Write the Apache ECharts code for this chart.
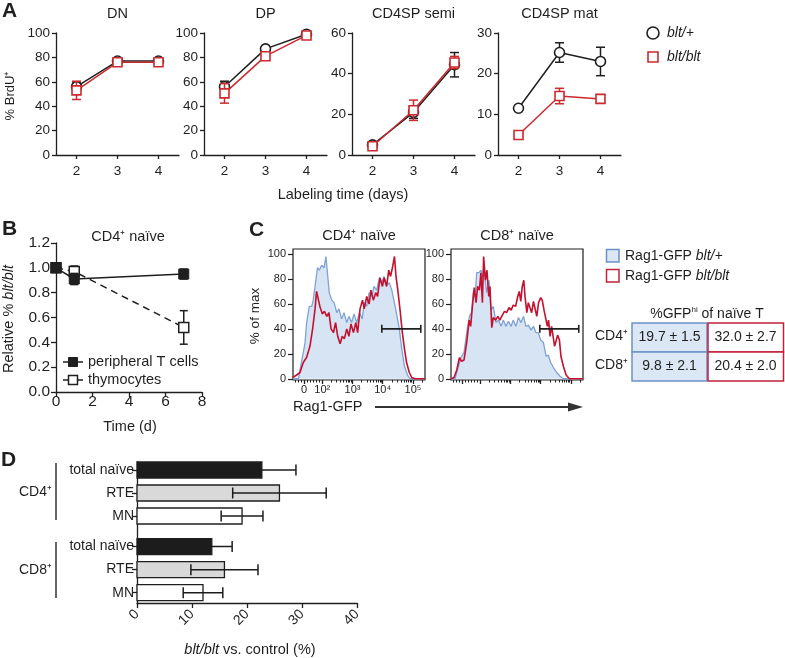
<!DOCTYPE html>
<html><head><meta charset="utf-8">
<script src="https://cdn.jsdelivr.net/npm/echarts@6/dist/echarts.min.js"></script>
<style>html,body{margin:0;padding:0;background:#fff}#c{width:785px;height:658px}</style>
</head><body><div id="c"></div>
<script>
// ---------- Panel A data ----------
const days = [2, 3, 4];
const dnWT = [56, 77, 77], dnWTErr = [3, 1.5, 1.5];
const dnKO = [53, 76, 76], dnKOErr = [7.5, 2, 2];
const dpWT = [56, 87, 99], dpWTErr = [4.5, 1.5, 1];
const dpKO = [50.5, 81, 98], dpKOErr = [8, 3, 1.5];
const semiWT = [5, 21, 44.4], semiWTErr = [1, 3, 6];
const semiKO = [4.3, 22, 45.5], semiKOErr = [1, 5, 3];
const matWT = [11.5, 25.2, 23], matWTErr = [0.5, 2.4, 3.5];
const matKO = [4.9, 14.5, 13.8], matKOErr = [0.4, 1.9, 0.6];
const aTitles = ['DN', 'DP', 'CD4SP semi', 'CD4SP mat'];
const aLegend = ['blt/+', 'blt/blt'];

// ---------- Panel B data ----------
const bTime = [0, 1, 7];
const periph = [1.0, 0.91, 0.95], periphErr = [0, 0.045, 0.04];
const thymo = [1.0, 0.97, 0.52], thymoErr = [0, 0.045, 0.135];
const bLegend = ['peripheral T cells', 'thymocytes'];

// ---------- Panel C data (x in decades of Rag1-GFP, y in % of max) ----------
const cTickVals = [1.4, 2, 3, 4, 5];
const cTickLabels = ['0', '10²', '10³', '10⁴', '10⁵'];
const cd4BlueX = [1.02,1.21,1.26,1.37,1.43,1.48,1.57,1.65,1.70,1.76,1.84,1.90,1.98,2.06,2.12,2.17,2.23,2.31,2.39,2.48,2.55,2.64,2.72,2.81,2.88,2.97,3.05,3.14,3.23,3.32,3.39,3.47,3.55,3.64,3.71,3.80,3.89,3.97,4.04,4.13,4.22,4.30,4.37,4.46,4.55,4.63,4.72,4.82,4.90,5.40];
const cd4BlueY = [0,0,7,21,29,45,58,58,63,74,89,87,91,89,98,85,69,63,61,53,56,48,53,45,50,45,52,45,53,48,61,58,69,66,74,71,81,77,82,75,77,71,63,52,40,24,10,3,0,0];
const cd4RedX = [1.02,1.15,1.26,1.37,1.48,1.59,1.68,1.76,1.81,1.87,1.92,2.00,2.07,2.15,2.22,2.29,2.37,2.44,2.51,2.59,2.66,2.73,2.81,2.88,2.95,3.03,3.11,3.17,3.25,3.33,3.39,3.47,3.55,3.61,3.69,3.77,3.83,3.91,3.99,4.05,4.13,4.20,4.26,4.33,4.39,4.44,4.50,4.57,4.65,4.72,4.79,4.88,4.96,5.07,5.40];
const cd4RedY = [1,3,5,13,17,26,40,56,70,71,58,52,54,50,53,40,37,45,34,28,34,32,40,34,44,37,45,37,56,63,56,66,60,71,63,69,66,81,74,81,74,87,82,90,98,82,71,56,37,24,13,5,1,0,0];
const cd8BlueX = [1.02,1.16,1.22,1.31,1.38,1.46,1.55,1.64,1.71,1.77,1.83,1.88,1.96,2.02,2.08,2.13,2.21,2.29,2.35,2.43,2.52,2.60,2.69,2.76,2.85,2.93,3.02,3.09,3.18,3.26,3.35,3.43,3.51,3.59,3.68,3.76,3.84,3.92,4.00,4.09,4.18,4.25,4.33,4.42,4.53,4.64,4.75,5.40];
const cd8BlueY = [0,0,5,13,18,21,37,50,53,70,65,85,85,87,81,87,69,79,55,58,45,47,42,47,42,46,42,47,42,49,45,50,42,43,39,42,37,37,31,29,18,19,13,9,5,2,0,0];
const cd8RedX = [1.02,1.13,1.22,1.31,1.38,1.46,1.55,1.63,1.68,1.75,1.80,1.86,1.91,1.97,2.02,2.07,2.11,2.17,2.22,2.28,2.32,2.38,2.43,2.51,2.58,2.65,2.73,2.80,2.87,2.95,3.02,3.09,3.17,3.24,3.29,3.34,3.39,3.44,3.48,3.54,3.59,3.65,3.70,3.76,3.81,3.87,3.93,4.00,4.05,4.11,4.17,4.22,4.26,4.31,4.36,4.41,4.46,4.51,4.56,4.62,4.67,4.75,4.84,4.95,5.40];
const cd8RedY = [0,1,7,17,14,15,29,47,42,61,73,61,74,71,85,61,98,79,87,66,74,41,49,47,50,47,51,54,53,57,55,59,58,66,70,62,74,79,66,53,61,62,53,62,61,50,61,65,63,55,54,42,47,34,42,34,26,25,35,31,18,10,3,0,0];
const gate = [3.97, 5.26, 40];
const cTitles = ['CD4⁺ naïve', 'CD8⁺ naïve'];
const cLegend = ['blt/+', 'blt/blt'];
const tableRows = ['CD4⁺', 'CD8⁺'];
const tableWT = ['19.7 ± 1.5', '9.8 ± 2.1'];
const tableKO = ['32.0 ± 2.7', '20.4 ± 2.0'];

// ---------- Panel D data ----------
const dGroups = ['CD4⁺', 'CD8⁺'];
const dCats = ['total naïve', 'RTE', 'MN'];
const dCD4 = [22.7, 25.9, 19.1], dCD4Err = [6.2, 8.5, 3.8];
const dCD8 = [13.6, 15.9, 12.0], dCD8Err = [3.7, 6.1, 3.6];

// ---------- styling ----------
const F = '"Liberation Sans", Arial, Helvetica, sans-serif';
const INK = '#1f1f1f';
const REDA = '#cc2a2e';
const HRED = '#c3112f';
const HBLUE = '#7fa2d3';
const HFILL = '#d6e4f3';

const grid = [], xAxis = [], yAxis = [], series = [], graphic = [];

function txt(x, y, text, o) {
  o = o || {};
  const size = o.size || 14;
  const st = {text: text, fill: o.color || INK, font: (o.bold ? 'bold ' : '') + size + 'px ' + F,
    textAlign: o.align || 'center', align: o.align || 'center',
    textVerticalAlign: 'middle', verticalAlign: 'middle'};
  if (o.rich) st.rich = o.rich;
  return {type: 'text', x: x, y: y, rotation: o.rot || 0, z: 100, style: st};
}
function richSet(size) {
  return {n: {fontSize: size, fontFamily: F, fill: INK, color: INK},
          i: {fontSize: size, fontFamily: F, fontStyle: 'italic', fill: INK, color: INK}};
}
const lineSt = {color: INK, width: 1.3};
function vErr(color, cap, lw) {
  return function (params, api) {
    const x = api.value(0), m = api.value(1), e = api.value(2);
    if (!e) return {type: 'group', children: []};
    const t = api.coord([x, m + e]), b = api.coord([x, m - e]);
    const st = {stroke: color, lineWidth: lw};
    return {type: 'group', children: [
      {type: 'line', shape: {x1: t[0], y1: t[1], x2: b[0], y2: b[1]}, style: st},
      {type: 'line', shape: {x1: t[0] - cap / 2, y1: t[1], x2: t[0] + cap / 2, y2: t[1]}, style: st},
      {type: 'line', shape: {x1: b[0] - cap / 2, y1: b[1], x2: b[0] + cap / 2, y2: b[1]}, style: st}]};
  };
}
function hErr(color, cap, lw) {
  return function (params, api) {
    const v = api.value(0), p = api.value(1), e = api.value(2);
    const l = api.coord([v - e, p]), r = api.coord([v + e, p]);
    const st = {stroke: color, lineWidth: lw};
    return {type: 'group', children: [
      {type: 'line', shape: {x1: l[0], y1: l[1], x2: r[0], y2: r[1]}, style: st},
      {type: 'line', shape: {x1: l[0], y1: l[1] - cap / 2, x2: l[0], y2: l[1] + cap / 2}, style: st},
      {type: 'line', shape: {x1: r[0], y1: r[1] - cap / 2, x2: r[0], y2: r[1] + cap / 2}, style: st}]};
  };
}

// ---------- Panel A ----------
const aSets = [
  {left: 56, ymax: 100, yint: 20, wt: dnWT, wtE: dnWTErr, ko: dnKO, koE: dnKOErr},
  {left: 204, ymax: 100, yint: 20, wt: dpWT, wtE: dpWTErr, ko: dpKO, koE: dpKOErr},
  {left: 352, ymax: 60, yint: 20, wt: semiWT, wtE: semiWTErr, ko: semiKO, koE: semiKOErr},
  {left: 498, ymax: 30, yint: 10, wt: matWT, wtE: matWTErr, ko: matKO, koE: matKOErr}
];
aSets.forEach(function (p, i) {
  grid.push({left: p.left, top: 33, width: 123, height: 122});
  const xi = xAxis.length, yi = yAxis.length;
  xAxis.push({gridIndex: i, type: 'value', min: 1.5, max: 4.5, position: 'bottom',
    axisLine: {show: true, onZero: false, lineStyle: lineSt},
    axisTick: {show: true, customValues: days, length: 4, lineStyle: lineSt},
    axisLabel: {show: true, customValues: days, fontSize: 13.5, fontFamily: F, color: INK, margin: 9},
    splitLine: {show: false}});
  yAxis.push({gridIndex: i, type: 'value', min: 0, max: p.ymax, interval: p.yint,
    axisLine: {show: true, onZero: false, lineStyle: lineSt},
    axisTick: {show: true, length: 4, lineStyle: lineSt},
    axisLabel: {show: true, fontSize: 13.5, fontFamily: F, color: INK, margin: 6},
    splitLine: {show: false}});
  series.push({type: 'custom', xAxisIndex: xi, yAxisIndex: yi, z: 1, renderItem: vErr(INK, 9, 1.5),
    encode: {x: 0, y: 1}, data: days.map(function (d, k) { return [d, p.wt[k], p.wtE[k]]; })});
  series.push({type: 'line', xAxisIndex: xi, yAxisIndex: yi, z: 2, symbol: 'circle', symbolSize: 10,
    itemStyle: {color: '#fff', borderColor: INK, borderWidth: 1.6}, lineStyle: {color: INK, width: 1.5},
    data: days.map(function (d, k) { return [d, p.wt[k]]; })});
  series.push({type: 'custom', xAxisIndex: xi, yAxisIndex: yi, z: 3, renderItem: vErr(REDA, 9, 1.5),
    encode: {x: 0, y: 1}, data: days.map(function (d, k) { return [d, p.ko[k], p.koE[k]]; })});
  series.push({type: 'line', xAxisIndex: xi, yAxisIndex: yi, z: 4, symbol: 'rect', symbolSize: 9,
    itemStyle: {color: '#fff', borderColor: REDA, borderWidth: 1.6}, lineStyle: {color: REDA, width: 1.5},
    data: days.map(function (d, k) { return [d, p.ko[k]]; })});
  graphic.push(txt(p.left + 61.5, 14, aTitles[i], {size: 14.5}));
});
graphic.push(txt(10, 96, '% BrdU⁺', {size: 13, rot: Math.PI / 2}));
graphic.push(txt(343, 195, 'Labeling time (days)', {size: 14.5}));
graphic.push({type: 'circle', shape: {cx: 653, cy: 33, r: 6}, style: {fill: '#fff', stroke: INK, lineWidth: 1.6}});
graphic.push({type: 'rect', shape: {x: 648, y: 52, width: 10, height: 10}, style: {fill: '#fff', stroke: REDA, lineWidth: 1.6}});
graphic.push(txt(667, 33, '{i|' + aLegend[0] + '}', {align: 'left', rich: richSet(14), size: 14}));
graphic.push(txt(667, 57, '{i|' + aLegend[1] + '}', {align: 'left', rich: richSet(14), size: 14}));

// ---------- Panel B ----------
const bg = grid.length;
grid.push({left: 56, top: 243, width: 146, height: 149});
const bx = xAxis.length, by = yAxis.length;
xAxis.push({gridIndex: bg, type: 'value', min: 0, max: 8, interval: 2, position: 'bottom',
  axisLine: {show: true, onZero: false, lineStyle: lineSt},
  axisTick: {show: true, length: 5, lineStyle: lineSt},
  axisLabel: {fontSize: 15.5, fontFamily: F, color: INK, margin: 2}, splitLine: {show: false}});
yAxis.push({gridIndex: bg, type: 'value', min: 0, max: 1.2, interval: 0.2,
  axisLine: {show: true, onZero: false, lineStyle: lineSt},
  axisTick: {show: true, length: 5, lineStyle: lineSt},
  axisLabel: {fontSize: 15.5, fontFamily: F, color: INK, margin: 6, formatter: function (v) { return v.toFixed(1); }},
  splitLine: {show: false}});
series.push({type: 'custom', xAxisIndex: bx, yAxisIndex: by, z: 1, renderItem: vErr(INK, 8, 1.5), encode: {x: 0, y: 1},
  data: bTime.map(function (t, k) { return [t, thymo[k], thymoErr[k]]; })});
series.push({type: 'line', xAxisIndex: bx, yAxisIndex: by, z: 2, symbol: 'rect', symbolSize: 10,
  itemStyle: {color: '#fff', borderColor: INK, borderWidth: 1.5}, lineStyle: {color: INK, width: 1.5, type: [7, 5]},
  data: bTime.map(function (t, k) { return [t, thymo[k]]; })});
series.push({type: 'custom', xAxisIndex: bx, yAxisIndex: by, z: 3, renderItem: vErr(INK, 8, 1.5), encode: {x: 0, y: 1},
  data: bTime.map(function (t, k) { return [t, periph[k], periphErr[k]]; })});
series.push({type: 'line', xAxisIndex: bx, yAxisIndex: by, z: 4, symbol: 'rect', symbolSize: 10,
  itemStyle: {color: INK, borderColor: INK, borderWidth: 1}, lineStyle: {color: INK, width: 1.5},
  data: bTime.map(function (t, k) { return [t, periph[k]]; })});
graphic.push(txt(128, 237, 'CD4⁺ naïve', {size: 14.5}));
graphic.push(txt(9, 319, '{n|Relative % }{i|blt/blt}', {size: 14.5, rot: Math.PI / 2, rich: richSet(14.5)}));
graphic.push(txt(130, 427, 'Time (d)', {size: 14.5}));
graphic.push({type: 'line', shape: {x1: 63, y1: 362, x2: 83, y2: 362}, style: {stroke: INK, lineWidth: 1.5}});
graphic.push({type: 'rect', shape: {x: 68.5, y: 357.5, width: 9, height: 9}, style: {fill: INK, stroke: INK, lineWidth: 1}});
graphic.push({type: 'line', shape: {x1: 63, y1: 380, x2: 83, y2: 380}, style: {stroke: INK, lineWidth: 1.5}});
graphic.push({type: 'rect', shape: {x: 68.5, y: 375.5, width: 9, height: 9}, style: {fill: '#fff', stroke: INK, lineWidth: 1.5}, z: 101});
graphic.push(txt(88, 362, bLegend[0], {align: 'left', size: 14.5}));
graphic.push(txt(88, 380, bLegend[1], {align: 'left', size: 14.5}));

// ---------- Panel C ----------
const cMinor = [1.1, 1.2, 1.3, 1.5, 1.6, 1.7, 1.8, 1.9];
[2, 3, 4, 5].forEach(function (d) { for (let k = 2; k <= 9; k++) { const v = d + Math.log10(k); if (v < 5.4) cMinor.push(v); } });
const hists = [
  {left: 293, blueX: cd4BlueX, blueY: cd4BlueY, redX: cd4RedX, redY: cd4RedY, labels: true},
  {left: 451, blueX: cd8BlueX, blueY: cd8BlueY, redX: cd8RedX, redY: cd8RedY, labels: false}
];
hists.forEach(function (h, j) {
  const gi = grid.length;
  grid.push({left: h.left, top: 249, width: 132, height: 131, show: true, borderColor: INK, borderWidth: 1.2, backgroundColor: 'transparent'});
  const xi = xAxis.length;
  xAxis.push({gridIndex: gi, type: 'value', min: 1.03, max: 5.4, position: 'bottom',
    axisLine: {show: false, onZero: false},
    axisTick: {show: true, customValues: cTickVals, length: 4, lineStyle: {color: INK, width: 1.3}},
    axisLabel: {show: h.labels, customValues: cTickVals, fontSize: 11, fontFamily: F, color: INK, margin: 4,
      formatter: function (v) { const k = cTickVals.findIndex(function (t) { return Math.abs(t - v) < 0.01; }); return k >= 0 ? cTickLabels[k] : ''; }},
    splitLine: {show: false}});
  xAxis.push({gridIndex: gi, type: 'value', min: 1.03, max: 5.4, position: 'bottom',
    axisLine: {show: false, onZero: false},
    axisTick: {show: true, customValues: cMinor, length: 2.5, lineStyle: {color: INK, width: 1}},
    axisLabel: {show: false}, splitLine: {show: false}});
  const yi = yAxis.length;
  yAxis.push({gridIndex: gi, type: 'value', min: -1, max: 104,
    axisLine: {show: false, onZero: false},
    axisTick: {show: true, customValues: [0, 20, 40, 60, 80, 100], length: 5, lineStyle: {color: INK, width: 1.2}},
    axisLabel: {show: true, customValues: [0, 20, 40, 60, 80, 100], fontSize: 11, fontFamily: F, color: INK, margin: 7},
    splitLine: {show: false}});
  series.push({type: 'line', xAxisIndex: xi, yAxisIndex: yi, z: 2, showSymbol: false, symbol: 'none',
    lineStyle: {color: HBLUE, width: 1.3}, areaStyle: {color: HFILL, opacity: 1},
    data: h.blueX.map(function (x, k) { return [x, h.blueY[k]]; })});
  series.push({type: 'line', xAxisIndex: xi, yAxisIndex: yi, z: 3, showSymbol: false, symbol: 'none',
    lineStyle: {color: HRED, width: 1.6},
    data: h.redX.map(function (x, k) { return [x, h.redY[k]]; })});
  series.push({type: 'custom', xAxisIndex: xi, yAxisIndex: yi, z: 4, encode: {x: 0, y: 2},
    renderItem: function (params, api) {
      const a = api.coord([api.value(0), api.value(2)]), b = api.coord([api.value(1), api.value(2)]);
      const st = {stroke: INK, lineWidth: 1.6};
      return {type: 'group', children: [
        {type: 'line', shape: {x1: a[0], y1: a[1], x2: b[0], y2: b[1]}, style: st},
        {type: 'line', shape: {x1: a[0], y1: a[1] - 4, x2: a[0], y2: a[1] + 4}, style: st},
        {type: 'line', shape: {x1: b[0], y1: b[1] - 4, x2: b[0], y2: b[1] + 4}, style: st}]};
    },
    data: [gate]});
  graphic.push(txt(h.left + 66, 236, cTitles[j], {size: 14.5}));
});
graphic.push(txt(255, 316, '% of max', {size: 13.5, rot: Math.PI / 2}));
graphic.push(txt(293, 407, 'Rag1-GFP', {align: 'left', size: 14.5}));
graphic.push({type: 'line', shape: {x1: 375, y1: 407, x2: 572, y2: 407}, style: {stroke: '#333', lineWidth: 2}});
graphic.push({type: 'polygon', shape: {points: [[568, 402.5], [583, 407], [568, 411.5]]}, style: {fill: '#333'}});
graphic.push({type: 'rect', shape: {x: 606.5, y: 249.5, width: 12.5, height: 12.5}, style: {fill: '#dbe7f4', stroke: '#6b92c8', lineWidth: 1.5}});
graphic.push({type: 'rect', shape: {x: 606.5, y: 269.5, width: 12.5, height: 12.5}, style: {fill: '#fff', stroke: '#c2203d', lineWidth: 1.5}});
graphic.push(txt(625, 256, '{n|Rag1-GFP }{i|' + cLegend[0] + '}', {align: 'left', rich: richSet(14)}));
graphic.push(txt(625, 276, '{n|Rag1-GFP }{i|' + cLegend[1] + '}', {align: 'left', rich: richSet(14)}));
graphic.push(txt(707, 314, '{n|%GFP}{s|hi}{n| of naïve T}', {rich: {
  n: {fontSize: 14, fontFamily: F, fill: INK, color: INK, lineHeight: 16},
  s: {fontSize: 8, fontFamily: F, fill: INK, color: INK, verticalAlign: 'top', lineHeight: 16}}}));
tableRows.forEach(function (r, k) {
  const y0 = 323 + k * 29;
  graphic.push({type: 'rect', shape: {x: 632, y: y0, width: 75, height: 29}, style: {fill: '#dbe7f4', stroke: '#6b92c8', lineWidth: 1.5}});
  graphic.push({type: 'rect', shape: {x: 708, y: y0, width: 75.5, height: 29}, style: {fill: '#fff', stroke: '#c2203d', lineWidth: 1.5}});
  graphic.push(txt(669.5, y0 + 14.5, tableWT[k], {size: 14}));
  graphic.push(txt(745.5, y0 + 14.5, tableKO[k], {size: 14}));
  graphic.push(txt(628, y0 + 13, r, {size: 14, align: 'right'}));
});

// ---------- Panel D ----------
const GROUP_GAP = 0.33;
const dPos = [], dBars = [], dErrs = [];
[dCD4, dCD8].forEach(function (vals, g) {
  const errs = g === 0 ? dCD4Err : dCD8Err;
  vals.forEach(function (v, c) {
    const p = g * (dCats.length + GROUP_GAP) + c;
    dPos.push(p);
    dBars.push([v, p, c]);
    dErrs.push([v, p, errs[c]]);
  });
});
const dg = grid.length;
grid.push({left: 137, top: 461.7, width: 220, height: 141.3});
const dx = xAxis.length, dy = yAxis.length;
xAxis.push({gridIndex: dg, type: 'value', min: 0, max: 40, interval: 10, position: 'bottom',
  axisLine: {show: true, onZero: false, lineStyle: lineSt},
  axisTick: {show: true, length: 5, lineStyle: lineSt},
  axisLabel: {fontSize: 14, fontFamily: F, color: INK, rotate: 45, margin: 9}, splitLine: {show: false}});
yAxis.push({gridIndex: dg, type: 'value', inverse: true, min: -0.36, max: 5.78,
  axisLine: {show: true, onZero: false, lineStyle: lineSt},
  axisTick: {show: true, customValues: dPos, length: 5, lineStyle: lineSt},
  axisLabel: {show: true, customValues: dPos, fontSize: 14, fontFamily: F, color: INK, margin: 3,
    formatter: function (v) { const k = dPos.findIndex(function (t) { return Math.abs(t - v) < 0.01; }); return k >= 0 ? dCats[k % dCats.length] : ''; }},
  splitLine: {show: false}});
const barFills = ['#1c1c1c', '#d9d9d9', '#ffffff'];
series.push({type: 'custom', xAxisIndex: dx, yAxisIndex: dy, z: 2, encode: {x: 0, y: 1},
  renderItem: function (params, api) {
    const s = api.coord([0, api.value(1)]), e = api.coord([api.value(0), api.value(1)]);
    return {type: 'rect', shape: {x: s[0], y: s[1] - 8, width: e[0] - s[0], height: 16},
      style: {fill: barFills[api.value(2)], stroke: INK, lineWidth: 1.3}};
  }, data: dBars});
series.push({type: 'custom', xAxisIndex: dx, yAxisIndex: dy, z: 3, encode: {x: 0, y: 1},
  renderItem: hErr('#1c1c1c', 11, 1.5), data: dErrs});
graphic.push(txt(52, 491.7, dGroups[0], {align: 'right', size: 14}));
graphic.push(txt(52, 570, dGroups[1], {align: 'right', size: 14}));
graphic.push({type: 'line', shape: {x1: 56, y1: 463, x2: 56, y2: 520}, style: {stroke: '#333', lineWidth: 1.5}});
graphic.push({type: 'line', shape: {x1: 56, y1: 542, x2: 56, y2: 598}, style: {stroke: '#333', lineWidth: 1.5}});
graphic.push(txt(250, 650, '{i|blt/blt}{n| vs. control (%)}', {rich: richSet(14.5)}));

// panel letters
graphic.push(txt(2, 11, 'A', {align: 'left', size: 21, bold: true}));
graphic.push(txt(2, 229, 'B', {align: 'left', size: 21, bold: true}));
graphic.push(txt(249, 230, 'C', {align: 'left', size: 21, bold: true}));
graphic.push(txt(1, 460, 'D', {align: 'left', size: 21, bold: true}));

const chart = echarts.init(document.getElementById('c'), null, {renderer: 'canvas'});
chart.setOption({animation: false, backgroundColor: '#fff', textStyle: {fontFamily: F},
  grid: grid, xAxis: xAxis, yAxis: yAxis, series: series, graphic: graphic});
</script></body></html>
